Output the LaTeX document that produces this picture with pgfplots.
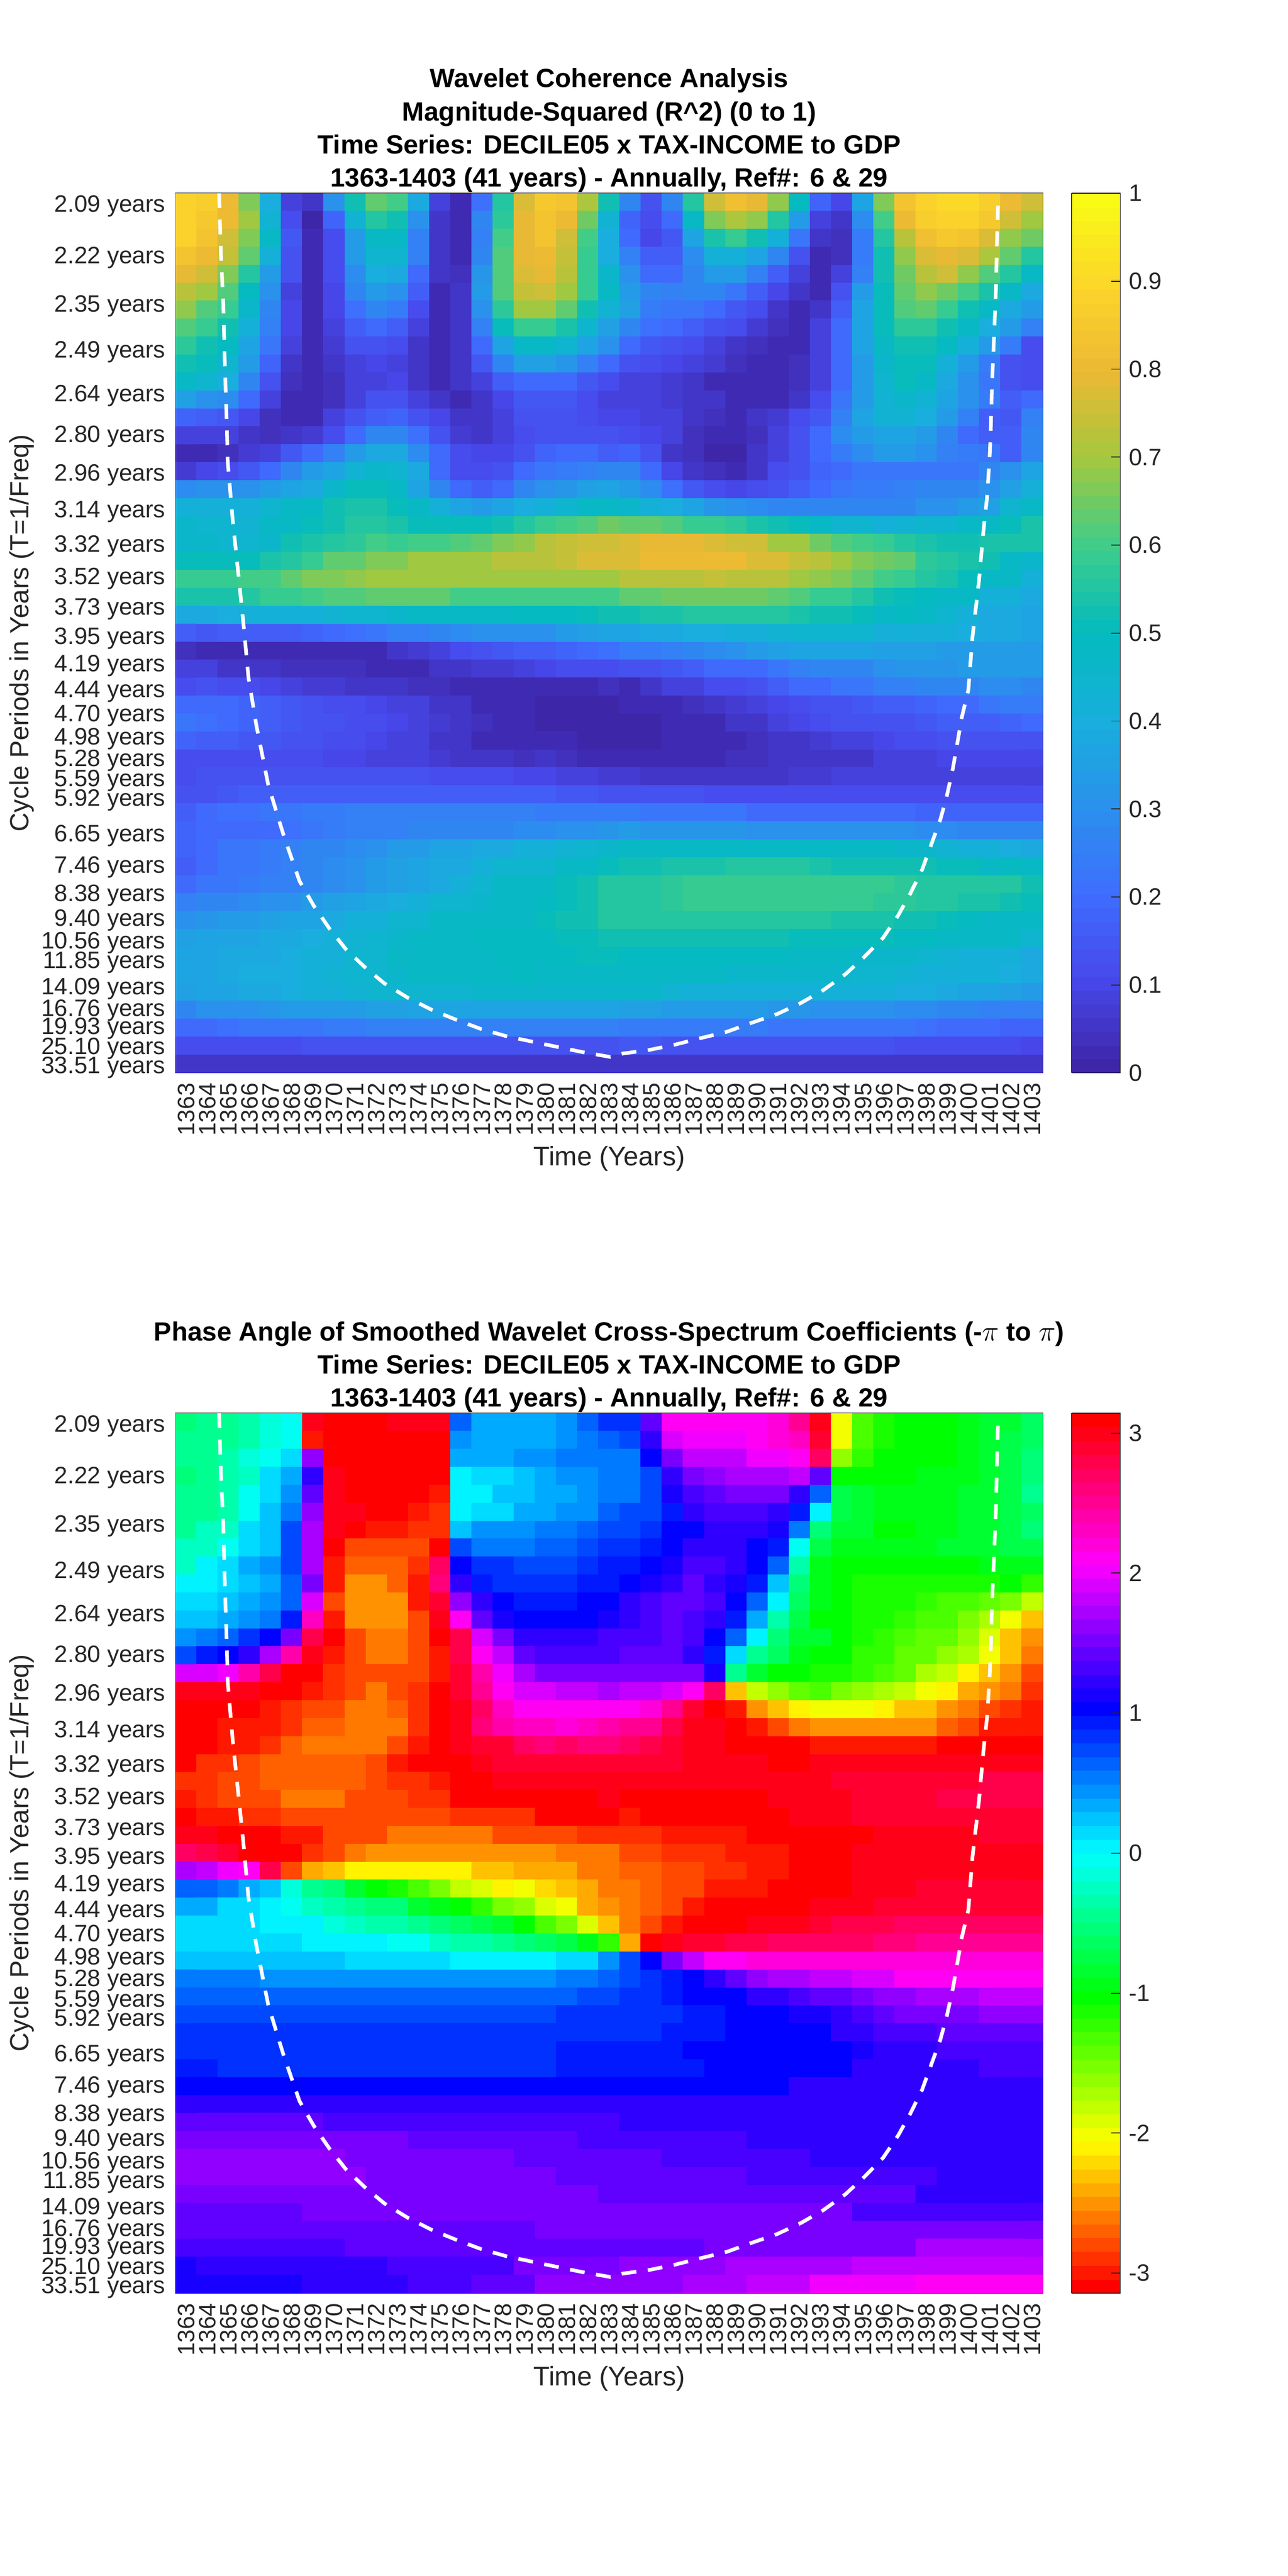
\documentclass[border=0pt]{standalone}
\usepackage{fontspec}
\setmainfont{Liberation Sans}
\usepackage{pgfplots}
\pgfplotsset{compat=1.18}
\definecolor{txt}{RGB}{38,38,38}
\newcount\cc \newcount\rr
\def\acc{}
\def\Rw#1{\cc=0 \def\rowacc{}\pgfplotsforeachungrouped \v in {#1}{\edef\rowacc{\rowacc(\the\cc,\the\rr)[\pre\v] }\advance\cc by 1 }\xdef\acc{\acc\rowacc}\advance\rr by 1 }
% ---- coherence, in two decimals (row 0 = top, 41 years per row)
\def\pre{0.}
\Rw{89,87,80,66,40,08,06,30,53,64,60,38,09,03,21,56,78,85,83,71,52,28,13,27,56,75,82,79,68,49,18,10,37,67,84,88,90,90,87,80,75}
\Rw{89,85,81,69,43,12,01,18,43,55,53,30,05,02,27,57,79,84,80,65,43,18,12,20,47,66,71,68,55,33,08,06,29,60,80,87,89,88,85,75,70}
\Rw{88,84,76,66,47,15,02,12,34,48,47,25,05,03,25,60,79,83,75,60,40,20,10,15,36,54,58,53,41,22,05,04,24,55,73,82,85,83,77,68,65}
\Rw{84,80,74,63,42,14,02,12,34,45,44,25,05,03,27,61,79,81,74,58,40,25,17,16,29,41,42,37,28,13,03,04,24,53,68,77,79,77,71,63,56}
\Rw{79,75,67,56,34,13,02,11,29,40,38,20,05,04,32,62,77,79,72,59,46,31,20,20,28,33,33,26,16,08,02,08,26,53,65,72,75,68,62,55,47}
\Rw{72,69,61,49,31,09,02,10,27,34,30,16,02,06,33,62,74,75,69,59,48,33,27,26,27,27,23,17,10,05,03,13,33,51,64,68,65,60,54,48,38}
\Rw{68,62,58,46,27,10,02,10,21,27,24,12,02,05,30,57,69,70,63,53,43,35,24,23,22,20,15,11,05,03,06,17,36,51,61,63,59,53,47,38,33}
\Rw{61,58,53,41,25,10,02,08,16,20,17,09,02,05,26,50,59,59,54,45,35,28,21,19,17,14,11,07,04,02,08,20,37,50,57,57,53,47,40,34,26}
\Rw{57,53,49,37,22,08,02,07,13,14,12,05,02,05,20,37,48,48,44,36,30,20,15,14,12,09,06,04,03,03,08,20,36,47,53,53,49,41,33,24,12}
\Rw{53,50,45,33,18,06,02,05,09,10,09,05,03,05,15,27,35,35,32,26,20,13,11,10,09,07,04,03,03,04,08,19,33,46,50,50,42,33,24,14,12}
\Rw{47,44,40,28,14,04,02,04,08,09,10,05,03,05,09,17,20,20,20,15,11,08,08,07,05,03,03,03,03,04,09,20,33,45,50,47,38,30,22,14,12}
\Rw{35,31,29,20,09,03,02,04,09,13,13,09,05,03,05,10,15,15,15,12,09,08,08,07,05,05,03,02,03,06,12,22,33,43,46,43,37,30,24,16,20}
\Rw{18,17,15,10,04,03,03,08,14,17,18,14,10,06,06,08,13,14,14,12,10,10,09,08,06,04,03,05,07,11,15,26,36,43,43,40,33,26,17,15,25}
\Rw{08,08,08,05,04,05,07,12,19,27,28,21,13,07,06,08,12,14,14,14,13,11,10,08,04,02,02,04,08,14,19,29,34,36,36,33,27,19,17,16,27}
\Rw{02,03,04,07,09,15,20,25,33,38,39,29,20,12,10,10,14,18,19,19,17,18,13,06,04,01,01,06,09,14,20,24,29,33,33,30,26,24,22,17,28}
\Rw{07,10,11,15,19,27,33,37,43,46,45,38,20,11,11,14,20,23,24,26,28,27,20,10,06,04,02,06,11,14,18,20,22,23,23,23,23,23,27,31,36}
\Rw{29,30,30,31,33,36,39,46,50,51,47,36,28,20,17,20,27,31,32,35,37,33,29,21,15,11,10,11,13,17,20,22,24,24,25,27,28,28,31,35,41}
\Rw{41,41,42,41,45,47,47,53,54,54,50,47,41,36,34,36,40,42,45,47,48,46,42,40,36,32,30,29,28,28,28,28,28,28,28,30,31,33,35,44,47}
\Rw{46,45,44,43,47,47,50,53,55,55,54,51,50,50,51,53,56,58,60,62,65,64,64,62,59,58,57,54,53,51,47,45,44,42,43,44,44,47,48,51,54}
\Rw{46,46,45,45,46,52,54,56,57,60,59,60,60,62,64,66,68,72,74,76,76,77,79,79,79,78,76,75,70,69,65,62,60,59,55,54,53,53,54,54,54}
\Rw{51,51,51,51,54,56,58,63,64,66,66,69,69,69,70,72,72,73,74,77,78,78,81,81,81,81,81,78,78,74,73,69,67,65,64,57,55,54,52,48,46}
\Rw{58,58,58,60,60,63,66,67,68,69,69,69,69,69,69,69,69,69,69,69,69,72,73,73,73,74,73,73,72,70,68,66,64,60,58,56,54,50,47,47,42}
\Rw{54,54,54,56,58,59,60,61,62,63,63,63,63,60,60,60,60,60,60,60,60,63,63,65,65,65,65,65,63,61,59,58,55,53,51,49,47,47,42,41,38}
\Rw{39,39,40,41,42,42,42,43,44,45,46,47,47,48,48,48,49,49,49,50,52,52,54,54,55,55,55,56,56,54,53,53,50,48,49,47,45,41,39,39,36}
\Rw{17,15,16,16,17,17,18,20,21,23,25,26,28,29,30,30,31,31,33,35,36,37,39,39,40,40,42,42,43,44,44,44,44,42,41,41,41,40,39,38,36}
\Rw{04,03,02,02,02,02,02,03,03,03,05,07,09,11,13,15,16,17,18,19,21,24,24,26,28,29,31,33,35,36,36,36,36,35,35,35,34,34,34,34,34}
\Rw{08,08,06,05,05,04,04,04,04,03,03,03,05,05,07,07,09,10,11,11,12,13,13,15,17,19,20,20,23,26,27,28,28,30,32,32,32,33,33,33,33}
\Rw{12,13,12,12,10,09,07,07,06,05,05,04,04,03,03,03,03,03,03,03,04,03,05,08,09,11,12,13,17,19,20,22,23,25,26,27,28,28,29,29,28}
\Rw{20,19,19,18,17,15,14,12,11,10,09,08,06,05,03,03,02,01,01,01,01,02,02,03,04,05,07,09,10,12,13,14,15,16,17,18,19,20,22,24,24}
\Rw{22,21,20,18,17,15,14,13,11,11,10,08,07,05,04,02,02,01,01,01,01,01,01,03,03,03,05,06,08,10,12,13,13,14,14,15,16,16,17,18,19}
\Rw{18,17,16,15,15,14,13,12,11,10,09,08,06,05,03,03,02,02,02,01,01,01,01,02,02,03,03,04,05,06,07,08,09,10,12,12,13,13,14,14,14}
\Rw{12,12,12,12,12,12,11,10,10,09,09,08,07,06,06,05,04,05,04,03,02,02,02,03,03,03,04,04,05,05,05,06,06,08,09,09,10,10,10,10,10}
\Rw{11,13,13,13,13,13,13,13,13,13,13,13,12,12,11,11,10,10,09,09,07,07,06,06,06,06,06,06,06,07,07,08,08,08,09,09,09,09,09,09,09}
\Rw{14,14,15,16,17,17,17,17,17,17,17,17,17,16,16,16,16,16,15,15,14,13,13,13,13,12,12,12,12,12,12,12,12,12,12,12,12,12,12,12,12}
\Rw{17,20,21,21,22,22,24,24,25,25,25,25,25,25,25,25,25,24,24,24,24,24,22,22,22,22,22,20,20,20,19,19,19,19,19,18,18,18,18,18,18}
\Rw{18,19,19,20,20,21,22,24,25,26,26,27,27,28,28,28,29,29,30,31,32,34,32,32,32,32,32,31,31,31,31,30,30,30,30,29,29,28,27,27,27}
\Rw{18,20,22,23,24,25,27,28,29,31,33,34,36,37,38,39,41,42,43,44,46,47,47,47,47,47,47,47,47,47,47,47,47,47,46,46,43,42,41,40,39}
\Rw{17,20,22,23,24,25,27,29,30,33,35,36,38,39,42,44,44,45,47,47,51,53,53,54,54,54,55,55,55,55,54,53,53,53,52,52,51,51,48,49,48}
\Rw{20,22,23,24,25,26,27,29,30,33,35,37,39,41,45,47,47,48,51,53,55,56,56,57,58,58,59,59,59,59,59,59,59,58,57,56,56,55,55,55,53}
\Rw{25,27,28,29,30,31,33,35,37,38,40,42,44,45,46,47,47,49,50,53,55,56,56,57,58,58,58,58,58,58,58,58,58,57,57,56,55,54,54,53,50}
\Rw{31,32,33,34,35,36,37,39,41,42,44,45,47,47,47,47,48,50,52,53,55,55,55,55,55,55,55,55,55,55,55,54,54,54,53,52,50,49,48,47,47}
\Rw{35,36,37,37,38,39,40,41,43,44,46,47,47,48,49,49,49,49,50,51,53,53,53,53,53,53,53,53,52,51,51,51,50,50,49,49,48,47,47,47,44}
\Rw{37,37,38,39,39,40,41,42,44,45,47,47,48,48,48,49,49,49,49,50,50,49,49,49,49,49,49,49,49,47,47,47,46,46,46,45,43,42,41,41,39}
\Rw{36,37,38,40,40,40,41,43,44,44,46,47,48,48,47,48,49,47,47,47,48,48,48,48,48,48,46,46,46,46,46,46,45,44,43,42,42,41,41,40,38}
\Rw{35,36,37,38,39,40,41,42,43,44,44,44,45,45,46,46,46,46,46,46,46,46,46,43,42,42,42,42,42,42,42,42,42,41,40,40,38,37,36,35,33}
\Rw{28,30,31,31,32,33,33,34,34,35,35,36,36,36,36,36,36,36,36,36,36,35,35,34,33,33,33,33,32,32,31,31,30,30,29,29,28,27,26,25,25}
\Rw{19,20,21,22,22,22,23,24,24,25,25,25,25,25,25,25,25,25,25,25,25,24,24,24,24,24,24,24,23,23,23,23,23,22,22,21,20,20,19,18,18}
\Rw{11,11,12,12,12,12,13,13,13,13,13,13,13,13,14,14,14,14,14,14,14,15,15,14,14,14,14,14,14,13,13,13,13,13,12,12,12,11,11,11,10}
\Rw{05,05,05,05,05,05,05,05,05,05,05,05,05,05,05,06,06,06,06,06,06,06,06,06,06,06,06,06,06,06,06,06,05,05,05,05,05,05,05,05,05}
\let\accA\acc
\gdef\acc{}\rr=0
% ---- phase angle, radians
\def\pre{}
\Rw{-0.5,-0.42,-0.42,-0.3,-0.15,-0.03,3.0,3.14,-3.14,3.1,3.0,3.0,3.0,0.6,0.33,0.33,0.36,0.36,0.45,0.6,0.8,0.85,1.4,2.1,2.1,2.1,2.1,2.15,2.2,2.55,2.95,-2.05,-1.3,-1.1,-1.05,-1.05,-1.0,-0.95,-0.85,-0.8,-0.6}
\Rw{-0.45,-0.45,-0.4,-0.3,-0.12,-0.02,-3.0,3.14,-3.14,3.14,3.14,3.1,3.05,0.45,0.33,0.33,0.33,0.33,0.45,0.55,0.65,0.75,1.2,1.9,2.0,2.05,2.05,2.1,2.2,2.35,2.85,-2.0,-1.35,-1.1,-1.05,-1.05,-1.0,-0.95,-0.85,-0.75,-0.6}
\Rw{-0.45,-0.45,-0.35,-0.15,-0.05,0.12,1.65,3.14,-3.14,-3.14,-3.14,-3.14,3.05,0.3,0.3,0.3,0.4,0.42,0.5,0.55,0.55,0.55,1.05,1.5,1.85,1.85,1.85,2.05,2.05,2.15,2.65,-1.6,-1.25,-1.05,-1.05,-1.05,-1.0,-0.95,-0.85,-0.75,-0.55}
\Rw{-0.5,-0.4,-0.35,-0.25,0.12,0.3,1.2,3.0,-3.14,-3.14,-3.14,-3.14,-3.14,0.06,0.18,0.18,0.25,0.3,0.4,0.45,0.55,0.55,0.75,1.2,1.55,1.65,1.7,1.75,1.75,1.78,1.45,-1.0,-1.0,-1.0,-1.0,-0.95,-0.95,-0.92,-0.85,-0.7,-0.5}
\Rw{-0.42,-0.4,-0.3,-0.02,0.1,0.42,1.45,3.0,-3.14,-3.14,-3.14,-3.1,-3.0,0.05,0.05,0.2,0.2,0.3,0.38,0.45,0.55,0.55,0.72,1.08,1.3,1.45,1.5,1.5,1.5,1.25,0.6,-0.75,-0.85,-0.95,-0.9,-0.9,-0.9,-0.88,-0.8,-0.7,-0.45}
\Rw{-0.42,-0.4,-0.3,-0.02,0.25,0.55,1.65,3.0,3.0,-3.1,-3.1,-3.0,-2.9,0.05,0.15,0.15,0.35,0.35,0.48,0.48,0.6,0.7,0.72,0.9,1.2,1.3,1.3,1.3,1.25,0.9,0.03,-0.75,-0.85,-0.9,-0.9,-0.9,-0.9,-0.88,-0.8,-0.7,-0.6}
\Rw{-0.42,-0.2,-0.2,0.12,0.25,0.7,1.75,3.0,3.14,-3.0,-3.0,-2.9,-2.9,0.22,0.42,0.42,0.42,0.55,0.55,0.65,0.7,0.7,0.85,1.05,1.05,1.2,1.2,1.2,1.15,0.55,-0.55,-0.8,-0.85,-1.0,-1.0,-0.95,-0.9,-0.88,-0.8,-0.7,-0.5}
\Rw{-0.25,-0.2,-0.02,0.12,0.25,0.7,1.75,3.14,-2.8,-2.8,-2.8,-2.8,3.1,0.7,0.5,0.5,0.5,0.6,0.6,0.75,0.85,0.85,0.9,1.05,1.2,1.2,1.2,1.05,0.9,-0.02,-0.7,-0.9,-0.9,-0.9,-0.9,-0.9,-0.85,-0.85,-0.8,-0.75,-0.7}
\Rw{-0.25,0,0.12,0.3,0.4,0.75,1.75,-3.0,-2.7,-2.7,-2.7,-2.9,2.7,1.05,0.85,0.8,0.75,0.75,0.75,0.85,0.9,0.95,1.05,1.15,1.3,1.3,1.2,1.05,0.6,-0.3,-0.9,-1.0,-1.0,-1.0,-1.0,-1.0,-1.0,-1.0,-0.98,-0.95,-0.95}
\Rw{0,0,0.1,0.25,0.35,0.65,1.55,-2.95,-2.55,-2.55,-2.7,-3.0,2.6,1.25,0.95,0.85,0.8,0.8,0.85,0.9,0.95,1.05,1.15,1.25,1.4,1.25,1.15,0.95,0.25,-0.55,-0.98,-1.05,-1.1,-1.1,-1.1,-1.1,-1.1,-1.1,-1.1,-1.05,-1.25}
\Rw{0.12,0.12,0.2,0.35,0.45,0.65,1.9,-2.8,-2.55,-2.55,-2.55,-2.95,2.85,1.6,1.2,1.05,0.95,0.95,0.95,1.05,1.05,1.2,1.3,1.4,1.4,1.3,1.05,0.65,0,-0.6,-0.95,-1.05,-1.1,-1.1,-1.1,-1.2,-1.3,-1.3,-1.4,-1.55,-1.85}
\Rw{0.25,0.25,0.35,0.45,0.55,0.9,2.35,-3.0,-2.55,-2.55,-2.55,-2.75,3.0,2.15,1.45,1.15,1.05,1.05,1.05,1.05,1.1,1.25,1.3,1.4,1.3,1.2,0.9,0.3,-0.3,-0.7,-1.0,-1.05,-1.1,-1.15,-1.25,-1.3,-1.35,-1.55,-1.7,-2.05,-2.35}
\Rw{0.45,0.55,0.6,0.8,1.05,1.5,2.8,-3.05,-2.75,-2.65,-2.65,-2.8,-3.14,2.75,1.95,1.5,1.25,1.2,1.2,1.25,1.3,1.3,1.3,1.4,1.3,1.05,0.6,0,-0.5,-0.8,-0.85,-1.05,-1.1,-1.2,-1.3,-1.4,-1.45,-1.65,-1.9,-2.3,-2.5}
\Rw{0.75,0.9,1.05,1.25,1.7,2.45,2.95,-3.0,-2.75,-2.65,-2.65,-2.75,-3.0,2.75,2.15,1.8,1.4,1.35,1.35,1.35,1.35,1.4,1.4,1.4,1.25,0.9,0.1,-0.45,-0.65,-0.95,-1.0,-1.05,-1.2,-1.25,-1.4,-1.45,-1.6,-1.75,-2.05,-2.35,-2.65}
\Rw{1.9,1.9,2.05,2.4,2.8,-3.14,-3.1,-2.9,-2.75,-2.75,-2.75,-2.75,-2.95,2.85,2.45,2.0,1.75,1.55,1.55,1.5,1.5,1.55,1.55,1.55,1.55,1.1,-0.45,-0.85,-1.05,-1.05,-1.1,-1.1,-1.2,-1.35,-1.45,-1.7,-1.85,-2.1,-2.35,-2.55,-2.75}
\Rw{2.95,2.95,2.95,3.0,3.05,-3.14,-3.0,-2.85,-2.75,-2.6,-2.75,-2.85,-3.1,2.9,2.55,2.15,1.9,1.9,1.8,1.8,1.75,1.8,1.85,1.95,2.1,2.65,-2.3,-1.8,-1.6,-1.45,-1.35,-1.55,-1.6,-1.75,-1.8,-2.0,-2.1,-2.4,-2.55,-2.65,-2.9}
\Rw{3.1,3.1,3.14,-3.14,-3.0,-2.9,-2.75,-2.75,-2.6,-2.6,-2.7,-2.9,-3.14,3.0,2.65,2.3,2.1,2.1,2.1,2.1,2.1,2.1,2.2,2.5,2.85,-3.14,-2.95,-2.5,-2.3,-2.15,-2.05,-2.05,-2.05,-2.15,-2.3,-2.35,-2.5,-2.65,-2.75,-2.9,-2.95}
\Rw{-3.14,-3.14,-3.0,-3.0,-2.95,-2.85,-2.7,-2.7,-2.6,-2.6,-2.6,-2.85,-3.14,2.95,2.6,2.45,2.3,2.3,2.25,2.35,2.4,2.5,2.55,2.75,2.95,3.0,-3.14,-2.95,-2.8,-2.65,-2.55,-2.55,-2.55,-2.55,-2.55,-2.55,-2.7,-2.8,-2.95,-3.0,-3.0}
\Rw{-3.14,-3.05,-2.95,-2.95,-2.85,-2.7,-2.65,-2.65,-2.6,-2.65,-2.75,-3.0,-3.14,3.0,2.9,2.85,2.65,2.6,2.65,2.6,2.6,2.7,2.8,2.85,2.95,3.0,3.05,3.05,-3.14,-3.14,-3.0,-3.0,-3.0,-3.0,-3.0,-3.0,-3.14,-3.14,-3.14,-3.14,3.05}
\Rw{-3.05,-2.9,-2.9,-2.75,-2.7,-2.7,-2.7,-2.7,-2.7,-2.8,-2.95,-3.1,-3.14,3.1,3.0,2.9,2.85,2.85,2.9,2.85,2.85,2.9,2.9,2.9,3.0,3.0,3.0,3.0,3.05,3.05,2.95,2.95,2.95,2.95,2.95,2.95,2.95,2.95,2.95,2.95,2.95}
\Rw{-2.85,-2.85,-2.75,-2.75,-2.7,-2.7,-2.7,-2.7,-2.7,-2.8,-2.9,-2.9,-3.0,3.14,3.14,3.0,3.0,3.0,2.95,2.95,2.95,2.95,2.95,2.95,2.95,2.95,2.95,2.95,2.95,2.95,2.95,2.85,2.85,2.85,2.85,2.85,2.85,2.85,2.8,2.75,2.75}
\Rw{-3.0,-2.85,-2.75,-2.75,-2.75,-2.65,-2.65,-2.65,-2.75,-2.75,-2.75,-2.85,-2.85,-3.05,-3.05,-3.14,-3.14,3.14,3.14,3.1,3.0,3.05,3.05,3.05,3.05,3.05,3.05,3.05,2.95,2.95,2.95,2.95,2.85,2.85,2.85,2.85,2.8,2.8,2.8,2.8,2.8}
\Rw{-3.14,-2.95,-2.95,-2.9,-2.85,-2.75,-2.75,-2.75,-2.75,-2.75,-2.75,-2.75,-2.75,-2.9,-2.9,-2.9,-2.9,-3.05,-3.05,-3.05,-3.05,-3.0,-3.14,-3.14,-3.14,-3.14,3.1,3.05,3.05,3.0,2.95,2.95,2.9,2.9,2.85,2.85,2.85,2.85,2.85,2.85,2.85}
\Rw{2.95,3.0,3.14,-3.14,-3.05,-2.95,-2.95,-2.8,-2.8,-2.8,-2.65,-2.65,-2.65,-2.65,-2.65,-2.75,-2.75,-2.75,-2.75,-2.85,-2.85,-2.9,-2.9,-3.0,-3.0,-3.0,-3.0,3.14,3.14,3.14,3.05,3.05,3.05,2.95,2.95,2.95,2.95,2.95,2.85,2.85,2.85}
\Rw{2.65,2.75,2.9,3.05,-3.14,-3.05,-2.9,-2.75,-2.6,-2.55,-2.55,-2.55,-2.55,-2.55,-2.55,-2.55,-2.55,-2.55,-2.65,-2.65,-2.65,-2.8,-2.8,-2.9,-2.9,-2.9,-3.0,-3.0,-3.0,3.14,3.14,3.14,3.0,3.0,3.0,2.95,2.95,2.95,2.95,2.95,2.95}
\Rw{1.7,1.8,2.0,2.15,2.8,-2.8,-2.45,-2.3,-2.15,-2.15,-2.15,-2.15,-2.15,-2.15,-2.3,-2.3,-2.4,-2.45,-2.45,-2.6,-2.6,-2.7,-2.7,-2.8,-2.8,-2.9,-2.9,-3.0,-3.0,3.14,3.14,3.14,3.0,3.0,3.0,2.95,2.95,2.95,2.95,2.95,2.95}
\Rw{0.62,0.62,0.5,0.3,0.25,-0.1,-0.4,-0.55,-0.8,-1.0,-1.1,-1.3,-1.55,-1.85,-1.95,-2.1,-2.05,-2.25,-2.35,-2.45,-2.6,-2.6,-2.7,-2.8,-2.8,-2.95,-3.0,-3.0,-3.14,-3.14,3.05,3.05,3.0,3.0,3.0,2.9,2.9,2.9,2.9,2.9,2.9}
\Rw{0.32,0.32,0.1,0.1,0.02,-0.02,-0.2,-0.35,-0.4,-0.5,-0.55,-0.8,-0.9,-1.05,-1.2,-1.5,-1.65,-1.95,-2.05,-2.4,-2.55,-2.6,-2.7,-2.8,-2.95,-3.1,-3.14,-3.14,3.1,3.05,3.0,3.0,3.0,2.9,2.9,2.85,2.85,2.85,2.85,2.85,2.85}
\Rw{0.1,0.1,0.1,0.1,0,0,0,-0.15,-0.2,-0.3,-0.35,-0.42,-0.5,-0.6,-0.7,-0.85,-1.0,-1.3,-1.55,-1.95,-2.35,-2.65,-2.8,-2.95,-3.05,-3.14,3.1,3.0,3.0,2.95,2.85,2.75,2.75,2.75,2.7,2.7,2.7,2.7,2.7,2.7,2.7}
\Rw{0.1,0.1,0.1,0.1,0.1,0.1,0,0,0,0,-0.05,-0.05,-0.2,-0.3,-0.3,-0.4,-0.5,-0.6,-0.7,-0.9,-1.25,-2.45,-3.14,3.0,2.9,2.9,2.8,2.8,2.7,2.65,2.65,2.65,2.65,2.6,2.6,2.55,2.55,2.55,2.55,2.55,2.55}
\Rw{0.25,0.25,0.25,0.25,0.25,0.25,0.25,0.25,0.1,0.1,0.1,0.1,0.1,0,0,0,0,0,0.1,0.1,0.4,0.7,1.05,1.55,1.85,2.1,2.1,2.25,2.25,2.25,2.25,2.25,2.25,2.25,2.25,2.25,2.25,2.25,2.25,2.25,2.25}
\Rw{0.5,0.5,0.5,0.5,0.42,0.42,0.42,0.42,0.42,0.42,0.42,0.42,0.42,0.42,0.42,0.42,0.42,0.42,0.5,0.5,0.6,0.75,0.85,0.95,1.05,1.25,1.4,1.6,1.7,1.75,1.85,1.85,1.95,1.95,2.1,2.1,2.1,2.1,2.1,2.1,2.1}
\Rw{0.6,0.6,0.6,0.6,0.6,0.6,0.6,0.6,0.6,0.6,0.6,0.6,0.6,0.6,0.6,0.6,0.6,0.6,0.6,0.7,0.7,0.8,0.8,0.9,1.0,1.05,1.05,1.2,1.25,1.35,1.4,1.4,1.5,1.6,1.65,1.7,1.75,1.75,1.85,1.85,1.85}
\Rw{0.75,0.75,0.7,0.7,0.7,0.7,0.7,0.7,0.7,0.7,0.7,0.7,0.7,0.7,0.7,0.7,0.7,0.7,0.8,0.8,0.8,0.8,0.85,0.85,0.95,0.95,1.0,1.05,1.05,1.15,1.15,1.2,1.35,1.4,1.5,1.5,1.55,1.55,1.6,1.6,1.6}
\Rw{0.8,0.8,0.8,0.8,0.8,0.8,0.8,0.8,0.8,0.8,0.8,0.8,0.8,0.8,0.8,0.8,0.8,0.8,0.88,0.88,0.88,0.88,0.88,0.92,0.92,0.92,1.0,1.0,1.05,1.05,1.05,1.2,1.2,1.3,1.3,1.3,1.4,1.4,1.4,1.45,1.45}
\Rw{0.88,0.88,0.88,0.88,0.88,0.88,0.88,0.88,0.88,0.88,0.88,0.88,0.88,0.88,0.88,0.88,0.88,0.88,0.95,0.95,0.95,0.92,0.92,0.95,1.0,1.0,1.0,1.0,1.05,1.05,1.05,1.05,1.15,1.2,1.2,1.2,1.3,1.3,1.3,1.35,1.35}
\Rw{0.9,0.9,0.8,0.8,0.8,0.8,0.8,0.88,0.88,0.88,0.88,0.88,0.88,0.88,0.88,0.88,0.88,0.88,0.98,0.98,0.98,0.98,0.98,0.98,0.98,1.05,1.05,1.05,1.05,1.05,1.05,1.05,1.18,1.18,1.18,1.18,1.18,1.18,1.35,1.35,1.35}
\Rw{1.0,1.0,1.0,1.0,1.0,1.0,1.0,1.0,1.0,1.0,1.0,1.0,1.0,1.0,1.0,1.0,1.0,1.05,1.05,1.05,1.05,1.05,1.05,1.05,1.05,1.05,1.05,1.05,1.05,1.2,1.2,1.2,1.2,1.2,1.2,1.2,1.2,1.2,1.2,1.2,1.2}
\Rw{1.22,1.22,1.22,1.22,1.22,1.22,1.22,1.22,1.22,1.22,1.22,1.22,1.22,1.22,1.22,1.22,1.22,1.22,1.22,1.22,1.22,1.22,1.22,1.22,1.22,1.22,1.22,1.22,1.22,1.22,1.22,1.22,1.22,1.22,1.22,1.22,1.22,1.22,1.22,1.22,1.22}
\Rw{1.38,1.38,1.38,1.38,1.38,1.38,1.38,1.33,1.33,1.33,1.33,1.33,1.33,1.33,1.33,1.33,1.33,1.33,1.33,1.33,1.33,1.22,1.22,1.22,1.22,1.22,1.22,1.22,1.22,1.22,1.22,1.22,1.22,1.22,1.22,1.22,1.22,1.22,1.22,1.22,1.22}
\Rw{1.52,1.52,1.52,1.52,1.52,1.52,1.52,1.52,1.52,1.52,1.52,1.4,1.4,1.4,1.4,1.4,1.4,1.4,1.4,1.33,1.33,1.33,1.33,1.33,1.33,1.33,1.33,1.22,1.22,1.22,1.22,1.22,1.22,1.22,1.22,1.22,1.22,1.22,1.22,1.22,1.22}
\Rw{1.6,1.6,1.6,1.6,1.6,1.6,1.6,1.6,1.52,1.52,1.52,1.52,1.52,1.52,1.52,1.52,1.4,1.4,1.4,1.4,1.4,1.4,1.4,1.33,1.33,1.33,1.33,1.33,1.33,1.33,1.22,1.22,1.22,1.22,1.22,1.22,1.22,1.22,1.22,1.22,1.22}
\Rw{1.6,1.6,1.6,1.6,1.6,1.6,1.6,1.6,1.6,1.52,1.52,1.52,1.52,1.52,1.52,1.52,1.52,1.52,1.4,1.4,1.4,1.4,1.4,1.4,1.4,1.4,1.4,1.33,1.33,1.33,1.33,1.33,1.33,1.33,1.33,1.33,1.22,1.22,1.22,1.22,1.22}
\Rw{1.5,1.5,1.5,1.5,1.5,1.5,1.5,1.5,1.5,1.5,1.5,1.5,1.5,1.5,1.5,1.5,1.5,1.5,1.5,1.5,1.38,1.38,1.38,1.38,1.38,1.38,1.38,1.38,1.38,1.38,1.38,1.38,1.38,1.38,1.38,1.25,1.25,1.25,1.25,1.25,1.25}
\Rw{1.4,1.4,1.4,1.4,1.4,1.4,1.5,1.5,1.5,1.5,1.5,1.5,1.5,1.5,1.5,1.5,1.5,1.5,1.5,1.5,1.5,1.5,1.5,1.5,1.5,1.5,1.5,1.5,1.5,1.5,1.5,1.5,1.3,1.3,1.3,1.3,1.3,1.3,1.3,1.3,1.3}
\Rw{1.38,1.38,1.38,1.38,1.38,1.38,1.38,1.38,1.38,1.38,1.38,1.38,1.38,1.38,1.38,1.38,1.38,1.48,1.48,1.48,1.48,1.48,1.48,1.48,1.48,1.48,1.48,1.48,1.48,1.48,1.48,1.48,1.48,1.48,1.48,1.48,1.48,1.48,1.48,1.48,1.48}
\Rw{1.3,1.3,1.3,1.3,1.3,1.3,1.3,1.3,1.42,1.42,1.42,1.42,1.42,1.42,1.42,1.42,1.42,1.42,1.42,1.42,1.42,1.42,1.42,1.42,1.42,1.55,1.55,1.55,1.55,1.55,1.55,1.55,1.55,1.55,1.55,1.7,1.7,1.7,1.7,1.7,1.7}
\Rw{1.08,1.25,1.25,1.25,1.25,1.25,1.25,1.25,1.25,1.25,1.35,1.35,1.35,1.35,1.35,1.35,1.48,1.48,1.48,1.48,1.48,1.58,1.58,1.58,1.58,1.58,1.7,1.7,1.7,1.7,1.7,1.7,1.8,1.8,1.8,1.8,1.8,1.8,1.8,1.8,1.8}
\Rw{1.12,1.12,1.12,1.12,1.12,1.12,1.25,1.25,1.25,1.25,1.25,1.35,1.35,1.35,1.45,1.45,1.45,1.58,1.58,1.58,1.58,1.58,1.58,1.58,1.72,1.72,1.72,1.85,1.85,1.85,1.98,1.98,1.98,1.98,1.98,2.12,2.12,2.12,2.12,2.12,2.12}
\let\accB\acc
\pgfplotsset{
 colormap={parsrc}{rgb255=(62,38,168) rgb255=(71,72,235) rgb255=(62,110,254) rgb255=(42,145,236) rgb255=(24,175,220) rgb255=(3,187,190) rgb255=(62,205,138) rgb255=(162,200,62) rgb255=(236,184,52) rgb255=(252,214,42) rgb255=(249,251,21)},
 colormap={hsvsrc}{rgb255=(255,0,0) rgb255=(255,255,0) rgb255=(0,255,0) rgb255=(0,255,255) rgb255=(0,0,255) rgb255=(255,0,255) rgb255=(255,0,0)},
 colormap={par64}{samples of colormap=(64 of parsrc)},
 colormap={hsv64}{samples of colormap=(64 of hsvsrc)},
 wv/.style={scale only axis,width=526.25pt,height=533.75pt,
  xmin=-0.5,xmax=40.5,ymin=-0.5,ymax=48.5,y dir=reverse,
  axis line style={color=txt,line width=0.6pt},
  tick align=inside,major tick length=5.5pt,tick style={color=txt,line width=0.6pt},
  xtick pos=both,ytick pos=both,
  xticklabel pos=bottom,yticklabel pos=left,
  xtick={0,1,...,40},
  xticklabels={1363,1364,1365,1366,1367,1368,1369,1370,1371,1372,1373,1374,1375,1376,1377,1378,1379,1380,1381,1382,1383,1384,1385,1386,1387,1388,1389,1390,1391,1392,1393,1394,1395,1396,1397,1398,1399,1400,1401,1402,1403},
  xticklabel style={rotate=90,anchor=east,inner sep=0pt,font=\fontsize{14.4}{16}\selectfont,color=txt},
  xticklabel shift=6pt,
  ytick={0,2.874,5.586,8.146,10.563,12.844,14.996,17.028,18.946,20.756,22.465,24.078,25.6,27.037,28.393,29.673,30.881,32.022,33.098,34.114,35.073,35.978,36.832,37.639,38.4,39.118,39.797,40.437,41.04,41.611,42.149,42.657,43.137,43.589,44.016,44.42,44.8,45.159,45.498,45.818,46.12,46.406,46.675,46.928,47.168,47.394,47.608,47.81,48},
  yticklabels={2.09 years,2.22 years,2.35 years,2.49 years,2.64 years,2.80 years,2.96 years,3.14 years,3.32 years,3.52 years,3.73 years,3.95 years,4.19 years,4.44 years,4.70 years,4.98 years,5.28 years,5.59 years,5.92 years,,6.65 years,,7.46 years,,8.38 years,,9.40 years,,10.56 years,,11.85 years,,,14.09 years,,,16.76 years,,,19.93 years,,,,25.10 years,,,,,33.51 years},
  yticklabel style={anchor=east,inner sep=0pt,yshift=-2.3pt,font=\fontsize{14.4}{16}\selectfont,color=txt},
  yticklabel shift=6pt,
  every axis x label/.style={at={(axis description cs:0.5,-0.0975)},anchor=center,font=\fontsize{16.3}{18}\selectfont,color=txt},
  every axis y label/.style={at={(axis description cs:-0.177,0.5)},anchor=center,rotate=90,font=\fontsize{16}{18}\selectfont,color=txt},
  xlabel={Time (Years)},ylabel={Cycle Periods in Years (T=1/Freq)},
  title style={align=center,font=\bfseries\fontsize{16}{20.1}\selectfont,color=black,yshift=-5.7pt,inner sep=0pt},
  colormap access=piecewise constant,
  colorbar sampled,
  colorbar shift/.style={xshift=17.5pt},
 },
 coi/.style={white,line width=2.2pt,dash pattern=on 9pt off 7pt,no markers,forget plot},
}
\def\coipath{(1.56,-0.5)(1.64,2.74)(1.76,5.67)(1.82,8.59)(1.92,12.26)(1.97,14.51)(2.21,17.79)(2.48,20.82)(2.71,23.46)(2.95,26.49)(3.32,29.13)(3.88,32.44)(4.35,34.27)(4.62,35.3)(5.36,37.81)(6.03,39.18)(6.77,40.45)(7.56,41.62)(8.44,42.6)(9.38,43.52)(10.49,44.32)(11.62,44.99)(12.73,45.52)(13.93,46.05)(15.16,46.46)(16.37,46.76)(17.58,47.06)(18.78,47.35)(20.05,47.61)(20.65,47.42)(21.9,47.22)(23.13,46.92)(24.37,46.55)(25.56,46.21)(26.71,45.72)(27.94,45.22)(29.07,44.6)(30.12,43.89)(31.15,43.02)(32.05,42.05)(32.95,40.97)(33.66,39.73)(34.23,38.52)(34.79,37.19)(35.2,35.86)(35.65,34.41)(35.96,33.08)(36.25,31.52)(36.47,30.05)(36.66,28.74)(36.98,27.16)(37.17,24.26)(37.48,21.1)(37.68,18.46)(37.87,16.35)(37.99,14.05)(38.03,13.0)(38.1,10.06)(38.18,7.85)(38.28,4.94)(38.32,2.74)(38.38,0.19)}
\begin{document}
\begin{tikzpicture}
\path[use as bounding box] (0,0) rectangle (781.25pt,1563pt);
\begin{axis}[wv,at={(106.5pt,912pt)},anchor=south west,
  colormap name=par64,point meta min=0,point meta max=1,
  title={Wavelet Coherence Analysis\\Magnitude-Squared (R\textasciicircum 2) (0 to 1)\\Time Series: DECILE05 x TAX-INCOME to GDP\\1363-1403 (41 years) - Annually, Ref\#: 6 \& 29},
  colorbar style={samples=65,at={(parent axis.south east)},anchor=south west,width=29.5pt,
    ytick={0,0.1,0.2,0.3,0.4,0.5,0.6,0.7,0.8,0.9,1},yticklabels={0,0.1,0.2,0.3,0.4,0.5,0.6,0.7,0.8,0.9,1},
    tick align=inside,major tick length=5.5pt,ytick pos=right,yticklabel pos=right,xtick=\empty,
    yticklabel style={anchor=west,inner sep=0pt,font=\fontsize{14.4}{16}\selectfont,color=txt},yticklabel shift=5pt,
    axis line style={color=txt,line width=0.6pt},tick style={color=txt,line width=0.6pt}}]
\edef\tmp{\noexpand\addplot[matrix plot*,mesh/cols=41,point meta=explicit] coordinates {\accA};}\tmp
\edef\tmp{\noexpand\addplot[coi] coordinates {\coipath};}\tmp
\end{axis}
\begin{axis}[wv,at={(106.5pt,171.75pt)},anchor=south west,
  colormap name=hsv64,point meta min=-3.14159,point meta max=3.14159,
  title={Phase Angle of Smoothed Wavelet Cross-Spectrum Coefficients (-$\pi$ to $\pi$)\\Time Series: DECILE05 x TAX-INCOME to GDP\\1363-1403 (41 years) - Annually, Ref\#: 6 \& 29},
  colorbar style={samples=65,at={(parent axis.south east)},anchor=south west,width=29.5pt,
    ytick={-3,-2,-1,0,1,2,3},yticklabels={-3,-2,-1,0,1,2,3},
    tick align=inside,major tick length=5.5pt,ytick pos=right,yticklabel pos=right,xtick=\empty,
    yticklabel style={anchor=west,inner sep=0pt,font=\fontsize{14.4}{16}\selectfont,color=txt},yticklabel shift=5pt,
    axis line style={color=txt,line width=0.6pt},tick style={color=txt,line width=0.6pt}}]
\edef\tmp{\noexpand\addplot[matrix plot*,mesh/cols=41,point meta=explicit] coordinates {\accB};}\tmp
\edef\tmp{\noexpand\addplot[coi] coordinates {\coipath};}\tmp
\end{axis}
\end{tikzpicture}
\end{document}
